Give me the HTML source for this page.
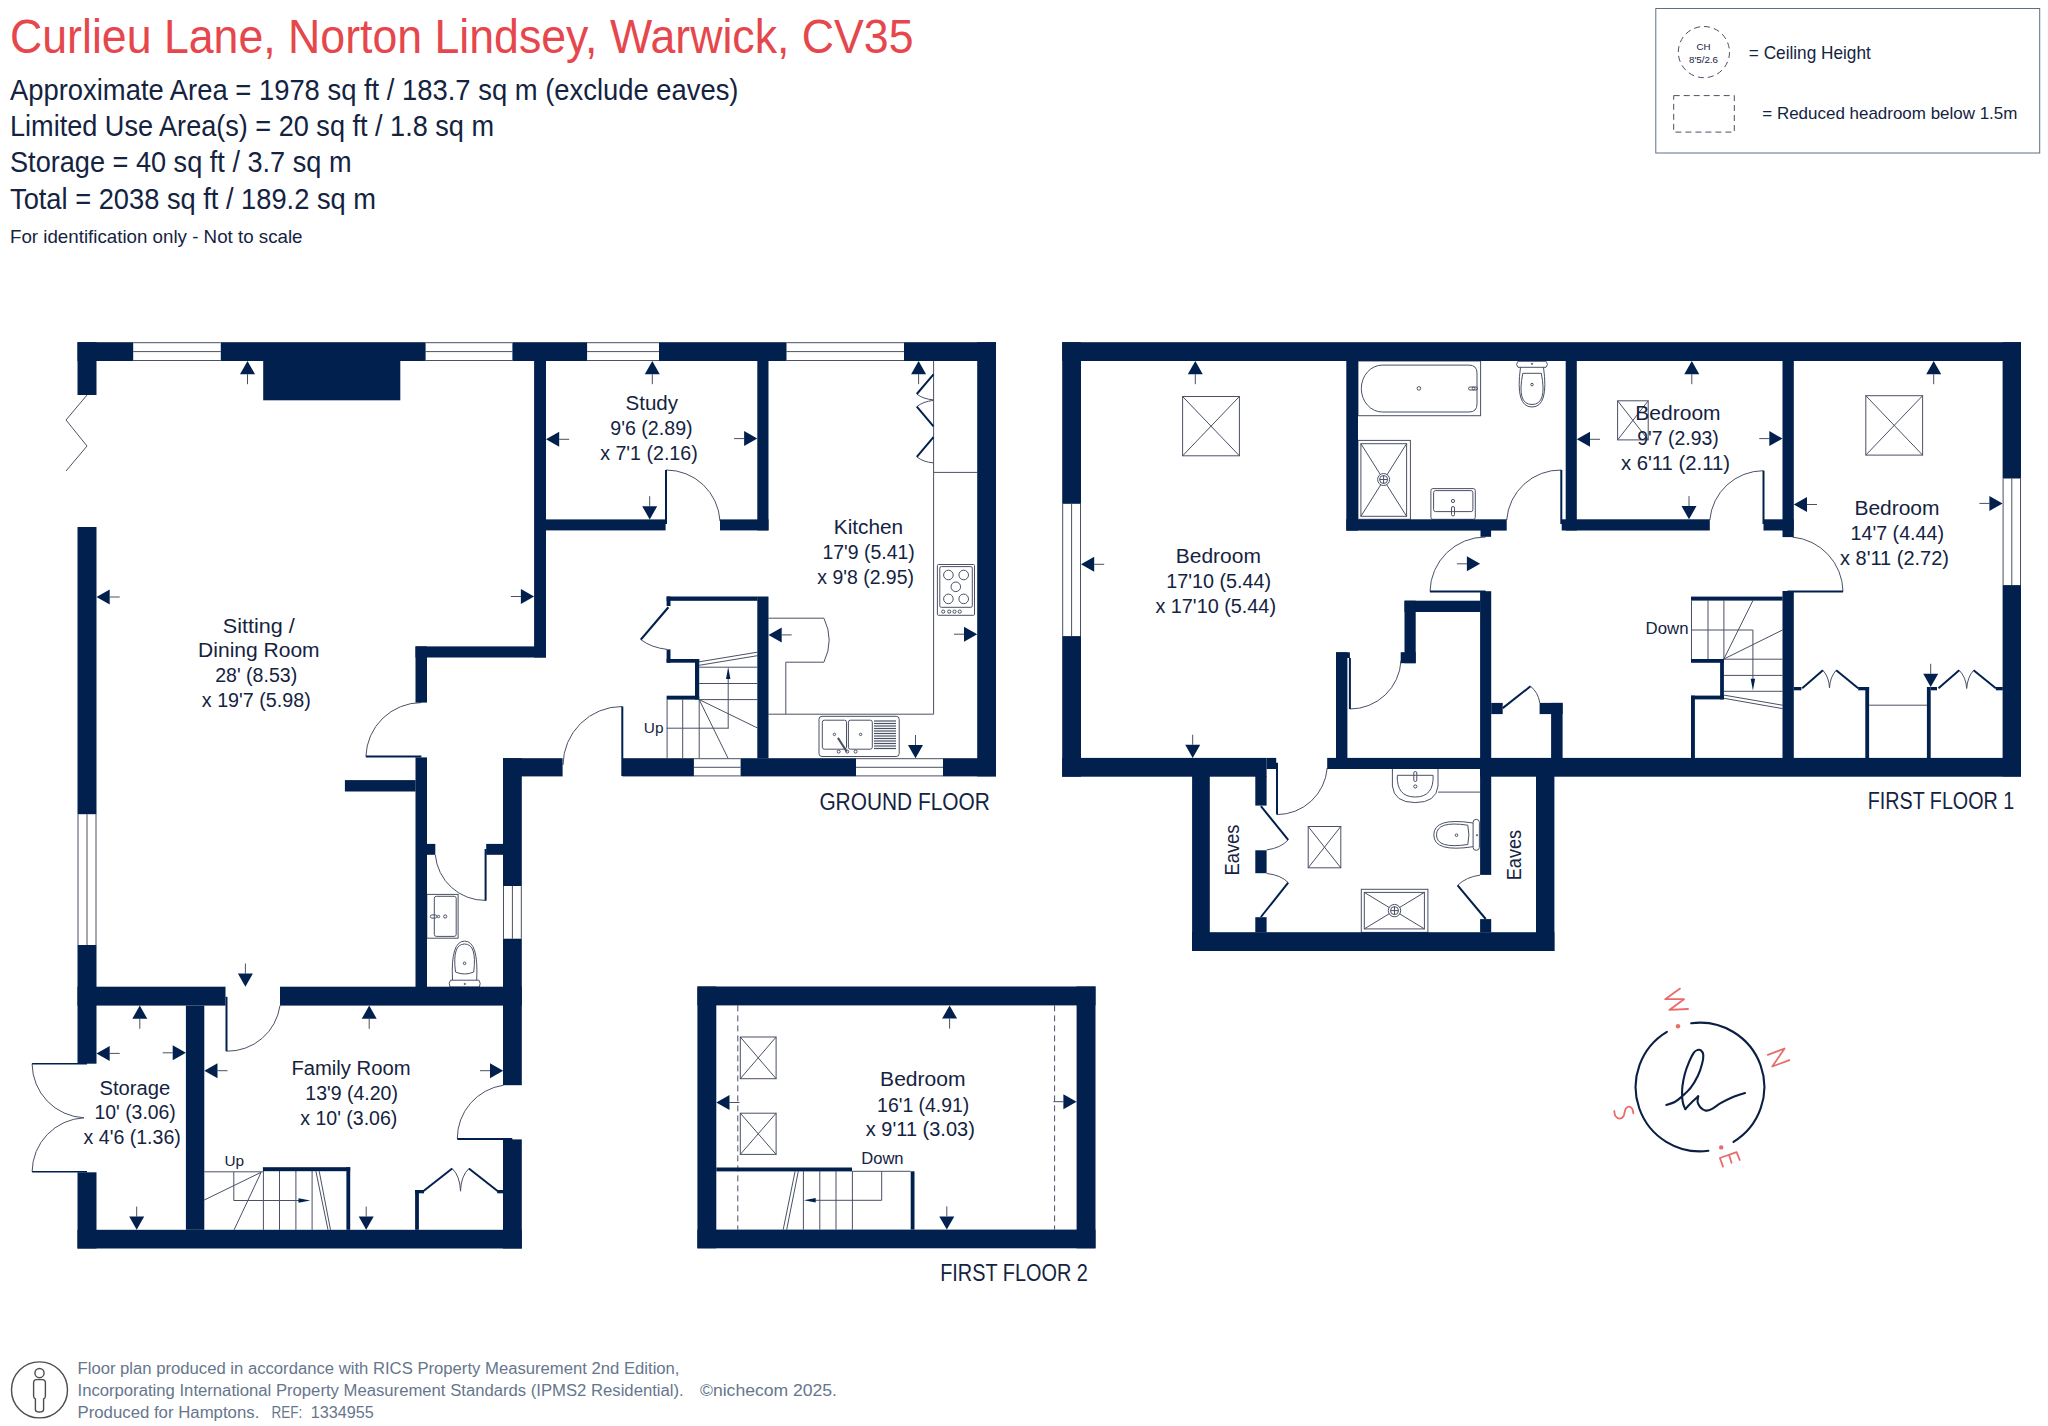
<!DOCTYPE html>
<html><head><meta charset="utf-8"><title>Floor plan</title>
<style>
html,body{margin:0;padding:0;background:#fff;}
body{width:2048px;height:1426px;overflow:hidden;font-family:"Liberation Sans",sans-serif;}
svg{display:block;}
</style></head><body>
<svg width="2048" height="1426" viewBox="0 0 2048 1426" font-family="'Liberation Sans', sans-serif">
<rect width="2048" height="1426" fill="#fff"/>
<g fill="none" stroke="#4a5165" stroke-width="1">
<line x1="133.2" y1="342.7" x2="220.8" y2="342.7"/>
<line x1="133.2" y1="351.6" x2="220.8" y2="351.6"/>
<line x1="133.2" y1="360.5" x2="220.8" y2="360.5"/>
<line x1="425.6" y1="342.7" x2="512.4" y2="342.7"/>
<line x1="425.6" y1="351.6" x2="512.4" y2="351.6"/>
<line x1="425.6" y1="360.5" x2="512.4" y2="360.5"/>
<line x1="587.1" y1="342.7" x2="659" y2="342.7"/>
<line x1="587.1" y1="351.6" x2="659" y2="351.6"/>
<line x1="587.1" y1="360.5" x2="659" y2="360.5"/>
<line x1="786.5" y1="342.7" x2="904" y2="342.7"/>
<line x1="786.5" y1="351.6" x2="904" y2="351.6"/>
<line x1="786.5" y1="360.5" x2="904" y2="360.5"/>
<line x1="693.9" y1="758.7" x2="740.6" y2="758.7"/>
<line x1="693.9" y1="767.3" x2="740.6" y2="767.3"/>
<line x1="693.9" y1="775.9" x2="740.6" y2="775.9"/>
<line x1="856" y1="758.7" x2="943" y2="758.7"/>
<line x1="856" y1="767.3" x2="943" y2="767.3"/>
<line x1="856" y1="775.9" x2="943" y2="775.9"/>
<line x1="78" y1="814.2" x2="78" y2="945"/>
<line x1="87" y1="814.2" x2="87" y2="945"/>
<line x1="96" y1="814.2" x2="96" y2="945"/>
<line x1="503.5" y1="886" x2="503.5" y2="938.7"/>
<line x1="512.4" y1="886" x2="512.4" y2="938.7"/>
<line x1="521.3" y1="886" x2="521.3" y2="938.7"/>
<line x1="1062.7" y1="503.8" x2="1062.7" y2="636.1"/>
<line x1="1071.6" y1="503.8" x2="1071.6" y2="636.1"/>
<line x1="1080.5" y1="503.8" x2="1080.5" y2="636.1"/>
<line x1="2003.1" y1="478.5" x2="2003.1" y2="585.1"/>
<line x1="2011.8" y1="478.5" x2="2011.8" y2="585.1"/>
<line x1="2020.5" y1="478.5" x2="2020.5" y2="585.1"/>
<path d="M87,395 L66,420 L87,446 L66,471"/>
<path d="M666,470 A54,54 0 0 1 720,521"/>
<path d="M365.9,756.6 A55.5,55.5 0 0 1 421.4,702.6"/>
<path d="M622.3,706.5 A59,59 0 0 0 563,765"/>
<path d="M435.3,854.8 A50,50 0 0 0 485.4,900.4"/>
<path d="M226.5,1051.2 A53,53 0 0 0 280,1005.6"/>
<path d="M457.3,1138.9 A54,54 0 0 1 503.5,1085.2"/>
<path d="M32.1,1063.7 A54.5,54.5 0 0 0 84,1117.8"/>
<path d="M32.1,1171.8 A54.5,54.5 0 0 1 84,1117.8"/>
<line x1="32.1" y1="1063.7" x2="87" y2="1063.7" stroke-width="1.6" stroke="#02204d"/>
<line x1="32.1" y1="1171.8" x2="87" y2="1171.8" stroke-width="1.6" stroke="#02204d"/>
<path d="M640.8,639.6 Q651,647.5 667,649.4"/>
<path d="M916.8,394 Q923,399 933.5,399.9"/>
<path d="M916.8,406.7 Q923,401.5 933.5,400.4"/>
<path d="M916.8,456.8 Q923,462 933.5,462.9"/>
<path d="M452.2,1168.5 Q460,1176 460.5,1191.2"/>
<path d="M468.9,1168.5 Q461,1176 460.5,1191.2"/>
<line x1="933.6" y1="361" x2="933.6" y2="714.2"/>
<line x1="933.6" y1="472.4" x2="977.2" y2="472.4"/>
<line x1="768.5" y1="714.2" x2="933.6" y2="714.2"/>
<path d="M768.5,618.2 L823.9,618.2 Q834.5,640 823.9,662.2 L785.8,662.2 L785.8,714.2"/>
<rect x="937.4" y="564.5" width="37.1" height="50.8" rx="1"/>
<rect x="939.8" y="566.6" width="32.5" height="40.7" rx="1.5"/>
<circle cx="948.4" cy="575" r="4.8"/>
<circle cx="963.7" cy="575" r="4.8"/>
<circle cx="955.8" cy="586.8" r="4.8"/>
<circle cx="948.4" cy="598.9" r="4.8"/>
<circle cx="963.7" cy="598.9" r="4.8"/>
<circle cx="943.2" cy="611.6" r="1.6"/>
<circle cx="949.2" cy="611.6" r="1.6"/>
<circle cx="954.5" cy="611.6" r="1.6"/>
<circle cx="959.7" cy="611.6" r="1.6"/>
<rect x="819" y="716.3" width="80.2" height="40.2" rx="3"/>
<rect x="822.3" y="720.2" width="24.2" height="29" rx="2"/>
<rect x="848.4" y="720.2" width="23.9" height="29" rx="2"/>
<line x1="874" y1="721" x2="896" y2="721" stroke-width="1.2"/>
<line x1="874" y1="723.5" x2="896" y2="723.5" stroke-width="1.2"/>
<line x1="874" y1="726" x2="896" y2="726" stroke-width="1.2"/>
<line x1="874" y1="728.5" x2="896" y2="728.5" stroke-width="1.2"/>
<line x1="874" y1="731" x2="896" y2="731" stroke-width="1.2"/>
<line x1="874" y1="733.5" x2="896" y2="733.5" stroke-width="1.2"/>
<line x1="874" y1="736" x2="896" y2="736" stroke-width="1.2"/>
<line x1="874" y1="738.5" x2="896" y2="738.5" stroke-width="1.2"/>
<line x1="874" y1="741" x2="896" y2="741" stroke-width="1.2"/>
<line x1="874" y1="743.5" x2="896" y2="743.5" stroke-width="1.2"/>
<line x1="874" y1="746" x2="896" y2="746" stroke-width="1.2"/>
<line x1="874" y1="748.5" x2="896" y2="748.5" stroke-width="1.2"/>
<circle cx="834.4" cy="734.4" r="1.2"/>
<circle cx="860.6" cy="734.4" r="1.2"/>
<line x1="837.9" y1="737.9" x2="846.8" y2="751.6" stroke-width="2"/>
<circle cx="838.7" cy="751.6" r="1.5"/>
<circle cx="847.3" cy="751.6" r="1.5"/>
<circle cx="855.6" cy="751.6" r="1.5"/>
<line x1="667.1" y1="699.6" x2="667.1" y2="758.2"/>
<line x1="682.7" y1="699.6" x2="682.7" y2="758.2"/>
<line x1="699.2" y1="699.6" x2="699.2" y2="758.2"/>
<line x1="666.6" y1="728.2" x2="728.7" y2="728.2"/>
<line x1="699.2" y1="667.2" x2="757.3" y2="667.2"/>
<line x1="699.2" y1="683.5" x2="757.3" y2="683.5"/>
<line x1="699.2" y1="699.6" x2="757.3" y2="699.6"/>
<line x1="699.2" y1="699.6" x2="757.3" y2="727.9"/>
<line x1="699.2" y1="699.6" x2="728" y2="758.2"/>
<line x1="699.2" y1="661.8" x2="757.3" y2="652.2"/>
<line x1="699.2" y1="665.3" x2="757.3" y2="655.7"/>
<line x1="728.2" y1="728.2" x2="728.2" y2="678"/>
<line x1="204.3" y1="1171.8" x2="262.9" y2="1171.8"/>
<line x1="263.4" y1="1171" x2="263.4" y2="1229.8"/>
<line x1="279.5" y1="1171" x2="279.5" y2="1229.8"/>
<line x1="295.9" y1="1171" x2="295.9" y2="1229.8"/>
<line x1="312.1" y1="1171" x2="312.1" y2="1229.8"/>
<line x1="315.9" y1="1171.2" x2="328" y2="1229.8"/>
<line x1="319.2" y1="1171.2" x2="330.5" y2="1229.8"/>
<line x1="261.1" y1="1172.3" x2="204.3" y2="1200"/>
<line x1="261.1" y1="1172.3" x2="234.1" y2="1229.8"/>
<path d="M233.8,1171.8 L233.8,1200.5 L300,1200.5"/>
<rect x="426.8" y="894.4" width="31.3" height="43.8"/>
<rect x="434.3" y="896.3" width="21.9" height="40.1" rx="2"/>
<circle cx="445.2" cy="916.5" r="1.6"/>
<rect x="430.3" y="914.9" width="6.5" height="3.2" rx="1.6"/>
<circle cx="438.5" cy="916.5" r="1.2"/>
<path d="M452.5,980.2 Q450.5,941.1 464.6,941.1 Q478.7,941.1 476.7,980.2"/>
<path d="M455.5,972 Q452,944 464.6,944 Q477.2,944 473.7,972 Q464.6,976 455.5,972 Z"/>
<path d="M450.5,980.2 L478.9,980.2 Q481.2,983 479.4,987 L450,987 Q448.2,983 450.5,980.2 Z"/>
<circle cx="464.6" cy="963.3" r="1.3"/>
<circle cx="464.8" cy="984" r="0.7"/>
<path d="M1430,591.4 A55.5,55.5 0 0 1 1485.6,537"/>
<path d="M1561.3,470 A54,54 0 0 0 1506.7,520"/>
<path d="M1763.5,470.7 A54,54 0 0 0 1709.8,520"/>
<path d="M1843,591.4 A55.5,55.5 0 0 0 1792.6,537.1"/>
<path d="M1349.9,709 A51,51 0 0 0 1401,660.6"/>
<path d="M1277,814.6 A50.5,50.5 0 0 0 1327.2,768"/>
<path d="M1530.5,686.3 Q1538,692 1539.8,702.9"/>
<path d="M1288.2,839.8 Q1281,848 1266.6,849.9"/>
<path d="M1266.6,873.5 Q1281,875 1288.2,882.6"/>
<path d="M1480.1,875.1 Q1466,877 1457.6,885.4"/>
<path d="M1822.9,670.3 Q1829,677 1829.5,688"/>
<path d="M1836.2,670.3 Q1830,677 1829.5,688"/>
<path d="M1959.2,670.3 Q1966,677 1966.7,688.5"/>
<path d="M1973.6,670.3 Q1967.5,677 1966.7,688.5"/>
<line x1="1869.1" y1="705.2" x2="1926.9" y2="705.2"/>
<rect x="1182.6" y="396.5" width="56.8" height="59.3"/>
<line x1="1182.6" y1="396.5" x2="1239.4" y2="455.8"/>
<line x1="1182.6" y1="455.8" x2="1239.4" y2="396.5"/>
<rect x="1617.6" y="400.8" width="30.6" height="39.1"/>
<line x1="1617.6" y1="400.8" x2="1648.2" y2="439.9"/>
<line x1="1617.6" y1="439.9" x2="1648.2" y2="400.8"/>
<rect x="1865.8" y="395.7" width="56.8" height="59.4"/>
<line x1="1865.8" y1="395.7" x2="1922.6" y2="455.1"/>
<line x1="1865.8" y1="455.1" x2="1922.6" y2="395.7"/>
<rect x="1308.2" y="826.5" width="32.6" height="41.3"/>
<line x1="1308.2" y1="826.5" x2="1340.8" y2="867.8"/>
<line x1="1308.2" y1="867.8" x2="1340.8" y2="826.5"/>
<rect x="740.3" y="1037" width="35.8" height="41.7"/>
<line x1="740.3" y1="1037" x2="776.1" y2="1078.7"/>
<line x1="740.3" y1="1078.7" x2="776.1" y2="1037"/>
<rect x="740.3" y="1113.2" width="35.8" height="41.2"/>
<line x1="740.3" y1="1113.2" x2="776.1" y2="1154.4"/>
<line x1="740.3" y1="1154.4" x2="776.1" y2="1113.2"/>
<rect x="1358" y="361" width="122.6" height="54.7"/>
<path d="M1382.3,365.1 L1469,365.1 Q1477,365.1 1477,373.1 L1477,404 Q1477,412 1469,412 L1382.3,412 A21,23.45 0 0 1 1382.3,365.1 Z"/>
<circle cx="1418.9" cy="388.4" r="1.8"/>
<rect x="1468.5" y="387" width="9" height="3" rx="1.5"/>
<circle cx="1473.6" cy="388.4" r="1.4"/>
<path d="M1518,361.3 L1546,361.3 Q1549,364.5 1546,367.3 L1518,367.3 Q1515,364.5 1518,361.3 Z"/>
<path d="M1520.5,367.3 Q1515,407 1532,407 Q1549,407 1543.5,367.3"/>
<path d="M1522.8,373.3 L1541.3,373.3 Q1547.5,404.5 1532,404.5 Q1516.5,404.5 1522.8,373.3 Z"/>
<circle cx="1532" cy="384.6" r="1.3"/>
<circle cx="1532" cy="363.8" r="0.7"/>
<rect x="1358" y="440.4" width="52.4" height="78.9"/>
<rect x="1360.9" y="443.7" width="45.7" height="72.6"/>
<line x1="1360.9" y1="443.7" x2="1406.6" y2="516.3"/>
<line x1="1406.6" y1="443.7" x2="1360.9" y2="516.3"/>
<circle cx="1383.6" cy="479.5" r="6" fill="#fff"/>
<circle cx="1383.6" cy="479.5" r="4"/>
<line x1="1379.6" y1="479.5" x2="1387.6" y2="479.5"/>
<line x1="1383.6" y1="475.5" x2="1383.6" y2="483.5"/>
<rect x="1430.9" y="488.6" width="44.4" height="30.7" rx="2"/>
<rect x="1433.6" y="490.6" width="39.3" height="21" rx="2"/>
<circle cx="1453" cy="501" r="1.6"/>
<rect x="1451.5" y="506.5" width="3" height="9.5" rx="1.5"/>
<path d="M1392.4,769 L1392.4,786 Q1394,802.6 1415.2,802.6 Q1436.4,802.6 1438,786 L1438,769"/>
<path d="M1397.3,775.3 L1433.1,775.3 Q1434,797 1415.2,797 Q1396.4,797 1397.3,775.3 Z"/>
<circle cx="1415.3" cy="786.5" r="1.6"/>
<rect x="1413.8" y="771.5" width="3" height="10" rx="1.5"/>
<line x1="1438" y1="792.1" x2="1480.1" y2="792.1"/>
<rect x="1473.1" y="819.4" width="6.3" height="30.9" rx="3"/>
<path d="M1473.1,823 Q1433.8,817 1433.8,834.9 Q1433.8,852.7 1473.1,846.7"/>
<path d="M1467.8,825.2 Q1436.5,820.5 1436.5,834.9 Q1436.5,849.2 1467.8,844.5 Q1470,834.9 1467.8,825.2 Z"/>
<circle cx="1456.5" cy="835.2" r="1.3"/>
<circle cx="1477" cy="835.2" r="0.7"/>
<rect x="1361.3" y="889.3" width="66.6" height="43.1"/>
<rect x="1364.3" y="892.4" width="60.1" height="36.5"/>
<line x1="1364.3" y1="892.4" x2="1424.4" y2="928.9"/>
<line x1="1424.4" y1="892.4" x2="1364.3" y2="928.9"/>
<circle cx="1394.5" cy="910.6" r="6.2" fill="#fff"/>
<circle cx="1394.5" cy="910.6" r="4"/>
<line x1="1390.5" y1="910.6" x2="1398.5" y2="910.6"/>
<line x1="1394.5" y1="906.6" x2="1394.5" y2="914.6"/>
<line x1="1691.5" y1="600.5" x2="1691.5" y2="659"/>
<line x1="1708" y1="600.5" x2="1708" y2="659"/>
<line x1="1723.9" y1="600.5" x2="1723.9" y2="659"/>
<line x1="1691.5" y1="630" x2="1752.9" y2="630"/>
<line x1="1723.9" y1="659" x2="1752.9" y2="600.6"/>
<line x1="1723.9" y1="659" x2="1782.5" y2="630"/>
<line x1="1723.9" y1="659.2" x2="1782.5" y2="659.2"/>
<line x1="1723.9" y1="675.4" x2="1782.5" y2="675.4"/>
<line x1="1723.9" y1="691.3" x2="1782.5" y2="691.3"/>
<line x1="1723.9" y1="695.1" x2="1782.5" y2="705.2"/>
<line x1="1723.9" y1="698.3" x2="1782.5" y2="708.6"/>
<line x1="1752.9" y1="630" x2="1752.9" y2="680"/>
<g stroke-dasharray="6,4">
<line x1="737.8" y1="1005.4" x2="737.8" y2="1229.6"/>
<line x1="1054.6" y1="1005.4" x2="1054.6" y2="1229.6"/>
</g>
<line x1="852" y1="1171.3" x2="910.7" y2="1171.3"/>
<line x1="803.4" y1="1171.3" x2="803.4" y2="1229.6"/>
<line x1="819.8" y1="1171.3" x2="819.8" y2="1229.6"/>
<line x1="836" y1="1171.3" x2="836" y2="1229.6"/>
<line x1="852.4" y1="1171.3" x2="852.4" y2="1229.6"/>
<line x1="795.1" y1="1171.3" x2="783.2" y2="1229.6"/>
<line x1="798.3" y1="1171.3" x2="786.7" y2="1229.6"/>
<path d="M881.7,1171.3 L881.7,1200.3 L814,1200.3"/>
<rect x="1655.8" y="8.5" width="383.9" height="144.5" stroke="#5f6e84"/>
<circle cx="1703.9" cy="52.1" r="25.6" stroke-dasharray="6,4"/>
<rect x="1673.7" y="95.6" width="60.6" height="36.5" stroke-dasharray="6,4"/>
</g>
<g fill="none" stroke="#02204d" stroke-width="2" stroke-linecap="butt">
<line x1="666" y1="470" x2="666" y2="524"/>
<line x1="365.9" y1="756.6" x2="421.4" y2="756.6"/>
<line x1="622.3" y1="706.5" x2="622.3" y2="776"/>
<line x1="485.6" y1="849" x2="485.6" y2="900.7"/>
<line x1="226.5" y1="996.8" x2="226.5" y2="1051.2"/>
<line x1="457.3" y1="1138.9" x2="512.3" y2="1138.9"/>
<line x1="668.4" y1="607.3" x2="640.8" y2="639.6" stroke-width="2.2"/>
<line x1="933.5" y1="374.3" x2="916.8" y2="394"/>
<line x1="916.8" y1="406.7" x2="933.5" y2="426.4"/>
<line x1="933.5" y1="437.2" x2="916.8" y2="456.8"/>
<line x1="423.2" y1="1191.2" x2="452.2" y2="1168.5"/>
<line x1="468.9" y1="1168.5" x2="497.9" y2="1191.2"/>
<line x1="1430" y1="591.4" x2="1485.6" y2="591.4"/>
<line x1="1561.3" y1="470" x2="1561.3" y2="524"/>
<line x1="1763.5" y1="470.7" x2="1763.5" y2="524"/>
<line x1="1787.5" y1="591.4" x2="1843" y2="591.4"/>
<line x1="1349.9" y1="658" x2="1349.9" y2="709"/>
<line x1="1277" y1="762.8" x2="1277" y2="814.6"/>
<line x1="1502.7" y1="708.1" x2="1530.5" y2="686.3"/>
<line x1="1260.9" y1="806.1" x2="1288.2" y2="839.8"/>
<line x1="1288.2" y1="882.6" x2="1260.9" y2="917"/>
<line x1="1457.6" y1="885.4" x2="1485.7" y2="919"/>
<line x1="1802.2" y1="688.3" x2="1822.9" y2="670.3"/>
<line x1="1836.2" y1="670.3" x2="1858.2" y2="688.3"/>
<line x1="1938.5" y1="688.3" x2="1959.2" y2="670.3"/>
<line x1="1973.6" y1="670.3" x2="1995.8" y2="688.3"/>
</g>
<g fill="#02204d">
<rect x="77.5" y="342.2" width="55.7" height="18.8"/>
<rect x="220.8" y="342.2" width="204.8" height="18.8"/>
<rect x="512.4" y="342.2" width="74.7" height="18.8"/>
<rect x="659" y="342.2" width="127.5" height="18.8"/>
<rect x="904" y="342.2" width="92" height="18.8"/>
<rect x="263.2" y="360" width="137.1" height="40.3"/>
<rect x="77.5" y="342.2" width="19" height="52.8"/>
<rect x="77.5" y="527" width="19" height="287.2"/>
<rect x="77.5" y="945" width="19" height="118.7"/>
<rect x="77.5" y="1172.3" width="19" height="76.2"/>
<rect x="977.2" y="342.2" width="18.8" height="434.2"/>
<rect x="622.4" y="758.2" width="71.5" height="18.2"/>
<rect x="740.6" y="758.2" width="115.4" height="18.2"/>
<rect x="943" y="758.2" width="53" height="18.2"/>
<rect x="503" y="758.2" width="59.6" height="18.2"/>
<rect x="503" y="758.2" width="18.8" height="127.8"/>
<rect x="503" y="938.7" width="18.8" height="146.5"/>
<rect x="503" y="1139.4" width="18.8" height="109.1"/>
<rect x="77.5" y="986.7" width="148" height="18.9"/>
<rect x="280" y="986.7" width="241.8" height="18.9"/>
<rect x="77.5" y="1229.8" width="444.3" height="18.7"/>
<rect x="185.9" y="1005.6" width="18.4" height="224.2"/>
<rect x="534.1" y="360" width="11.9" height="297.5"/>
<rect x="415.5" y="646.4" width="130.5" height="11.1"/>
<rect x="415.5" y="646.4" width="11.5" height="56.2"/>
<rect x="415.5" y="757.4" width="11.5" height="229.6"/>
<rect x="344.9" y="780.1" width="70.7" height="11.4"/>
<rect x="426.8" y="843.9" width="8.5" height="10.9"/>
<rect x="486.2" y="843.9" width="17" height="10.9"/>
<rect x="546" y="519.4" width="119.6" height="11"/>
<rect x="720" y="519.4" width="48.5" height="11"/>
<rect x="757.3" y="360" width="11.2" height="170.4"/>
<rect x="757.3" y="596.5" width="11.2" height="161.9"/>
<rect x="666.6" y="596.5" width="90.9" height="4.3"/>
<rect x="666.6" y="596.5" width="3.9" height="9.5"/>
<rect x="666.6" y="649.4" width="3.9" height="13.3"/>
<rect x="666.6" y="659" width="32.6" height="3.7"/>
<rect x="695" y="659" width="4.2" height="40.6"/>
<rect x="666.6" y="695.7" width="32.6" height="3.9"/>
<rect x="262.9" y="1167.2" width="87.3" height="4"/>
<rect x="346.4" y="1167.2" width="3.8" height="62.6"/>
<rect x="415.1" y="1190" width="8.9" height="3.3"/>
<rect x="415.1" y="1190" width="3.8" height="39.8"/>
<rect x="497.2" y="1190" width="6.3" height="3.3"/>
<rect x="1062.2" y="342.2" width="958.8" height="18.8"/>
<rect x="1062.2" y="342.2" width="18.8" height="161.6"/>
<rect x="1062.2" y="636.1" width="18.8" height="140.6"/>
<rect x="2002.6" y="342.2" width="18.4" height="136.3"/>
<rect x="2002.6" y="585.1" width="18.4" height="191.4"/>
<rect x="1062.2" y="757.9" width="204.4" height="18.8"/>
<rect x="1266.6" y="757.9" width="9.6" height="11.1"/>
<rect x="1327.2" y="757.9" width="152.9" height="11.1"/>
<rect x="1480.1" y="757.9" width="540.9" height="18.8"/>
<rect x="1192.1" y="776" width="17.7" height="175"/>
<rect x="1192.1" y="932.2" width="362.3" height="18.8"/>
<rect x="1536" y="776" width="18.4" height="175"/>
<rect x="1255.3" y="776" width="11.3" height="29.6"/>
<rect x="1255.3" y="850.3" width="11.3" height="22.9"/>
<rect x="1255.3" y="917.2" width="11.3" height="15.2"/>
<rect x="1480.1" y="591.2" width="11.1" height="283.7"/>
<rect x="1480.1" y="919.1" width="11.1" height="13.3"/>
<rect x="1346.3" y="360" width="11.7" height="170.6"/>
<rect x="1346.3" y="519.3" width="160.4" height="11.3"/>
<rect x="1480.5" y="530" width="10.6" height="6.8"/>
<rect x="1565.7" y="360" width="11.1" height="170.5"/>
<rect x="1561.7" y="519.3" width="148.1" height="11.2"/>
<rect x="1763.5" y="519.3" width="30.3" height="11.2"/>
<rect x="1782.5" y="360" width="11.3" height="177.1"/>
<rect x="1782.5" y="591" width="11.3" height="167.5"/>
<rect x="1404.5" y="600.7" width="76" height="11.3"/>
<rect x="1404.5" y="600.7" width="11.2" height="62.5"/>
<rect x="1400.7" y="652.2" width="15" height="11"/>
<rect x="1336" y="652.3" width="11.4" height="106.2"/>
<rect x="1336" y="652.3" width="13.9" height="5.7"/>
<rect x="1491.2" y="702.9" width="11.5" height="11.2"/>
<rect x="1539.6" y="702.9" width="23" height="11.2"/>
<rect x="1551.1" y="702.9" width="11.5" height="55.6"/>
<rect x="1691" y="596.6" width="91.6" height="4"/>
<rect x="1691" y="659" width="32.9" height="3.8"/>
<rect x="1720.1" y="659" width="3.8" height="40.4"/>
<rect x="1691" y="695.6" width="32.9" height="3.8"/>
<rect x="1691" y="695.6" width="3.9" height="62.9"/>
<rect x="1793.8" y="687" width="7.6" height="3.3"/>
<rect x="1858.2" y="687" width="10.9" height="3.3"/>
<rect x="1865.3" y="687" width="3.8" height="71.5"/>
<rect x="1926.9" y="687" width="3.8" height="71.5"/>
<rect x="1930.7" y="687" width="6.3" height="3.3"/>
<rect x="1995.8" y="687" width="7" height="3.3"/>
<rect x="697.4" y="986.5" width="398.1" height="18.9"/>
<rect x="697.4" y="1229.6" width="398.1" height="18.7"/>
<rect x="697.4" y="986.5" width="18.9" height="261.8"/>
<rect x="1076.6" y="986.5" width="18.9" height="261.8"/>
<rect x="716.3" y="1167.5" width="135.7" height="3.9"/>
<rect x="910.7" y="1171.3" width="3.8" height="58.3"/>
</g>
<g fill="none" stroke="#4a5165" stroke-width="1">
<line x1="247.5" y1="374.2" x2="247.5" y2="384.2"/>
<line x1="109.7" y1="597" x2="119.7" y2="597"/>
<line x1="520.9" y1="596.5" x2="510.9" y2="596.5"/>
<line x1="245.4" y1="973.5" x2="245.4" y2="963.5"/>
<line x1="652.3" y1="374.2" x2="652.3" y2="384.2"/>
<line x1="559.2" y1="439.3" x2="569.2" y2="439.3"/>
<line x1="744.1" y1="438.6" x2="734.1" y2="438.6"/>
<line x1="649.7" y1="506.2" x2="649.7" y2="496.2"/>
<line x1="918.6" y1="374.2" x2="918.6" y2="384.2"/>
<line x1="781.7" y1="634.9" x2="791.7" y2="634.9"/>
<line x1="964" y1="634.2" x2="954" y2="634.2"/>
<line x1="915.5" y1="745" x2="915.5" y2="735"/>
<line x1="139.8" y1="1018.8" x2="139.8" y2="1028.8"/>
<line x1="109.7" y1="1053.4" x2="119.7" y2="1053.4"/>
<line x1="172.7" y1="1052.8" x2="162.7" y2="1052.8"/>
<line x1="136.7" y1="1216.6" x2="136.7" y2="1206.6"/>
<line x1="369.2" y1="1018.8" x2="369.2" y2="1028.8"/>
<line x1="217.5" y1="1070.7" x2="227.5" y2="1070.7"/>
<line x1="490" y1="1070.7" x2="480" y2="1070.7"/>
<line x1="366.2" y1="1216.6" x2="366.2" y2="1206.6"/>
<line x1="949.6" y1="1018.6" x2="949.6" y2="1028.6"/>
<line x1="729.5" y1="1102.5" x2="739.5" y2="1102.5"/>
<line x1="1063.4" y1="1101.7" x2="1053.4" y2="1101.7"/>
<line x1="946.8" y1="1216.4" x2="946.8" y2="1206.4"/>
<line x1="1195.3" y1="374.2" x2="1195.3" y2="384.2"/>
<line x1="1094.2" y1="564.3" x2="1104.2" y2="564.3"/>
<line x1="1192.7" y1="744.7" x2="1192.7" y2="734.7"/>
<line x1="1466.9" y1="563.8" x2="1456.9" y2="563.8"/>
<line x1="1691.8" y1="374.2" x2="1691.8" y2="384.2"/>
<line x1="1590" y1="439.3" x2="1600" y2="439.3"/>
<line x1="1769.3" y1="438.6" x2="1759.3" y2="438.6"/>
<line x1="1689" y1="506.1" x2="1689" y2="496.1"/>
<line x1="1933.7" y1="374.2" x2="1933.7" y2="384.2"/>
<line x1="1807" y1="504.5" x2="1817" y2="504.5"/>
<line x1="1989.4" y1="503.4" x2="1979.4" y2="503.4"/>
<line x1="1930.7" y1="673.8" x2="1930.7" y2="663.8"/>
</g>
<g fill="#02204d">
<polygon points="247.5,361 240,374.2 255,374.2"/>
<polygon points="96.5,597 109.7,589.5 109.7,604.5"/>
<polygon points="534.1,596.5 520.9,589 520.9,604"/>
<polygon points="245.4,986.7 237.9,973.5 252.9,973.5"/>
<polygon points="652.3,361 644.8,374.2 659.8,374.2"/>
<polygon points="546,439.3 559.2,431.8 559.2,446.8"/>
<polygon points="757.3,438.6 744.1,431.1 744.1,446.1"/>
<polygon points="649.7,519.4 642.2,506.2 657.2,506.2"/>
<polygon points="918.6,361 911.1,374.2 926.1,374.2"/>
<polygon points="768.5,634.9 781.7,627.4 781.7,642.4"/>
<polygon points="977.2,634.2 964,626.7 964,641.7"/>
<polygon points="915.5,758.2 908,745 923,745"/>
<polygon points="139.8,1005.6 132.3,1018.8 147.3,1018.8"/>
<polygon points="96.5,1053.4 109.7,1045.9 109.7,1060.9"/>
<polygon points="185.9,1052.8 172.7,1045.3 172.7,1060.3"/>
<polygon points="136.7,1229.8 129.2,1216.6 144.2,1216.6"/>
<polygon points="369.2,1005.6 361.7,1018.8 376.7,1018.8"/>
<polygon points="204.3,1070.7 217.5,1063.2 217.5,1078.2"/>
<polygon points="503.2,1070.7 490,1063.2 490,1078.2"/>
<polygon points="366.2,1229.8 358.7,1216.6 373.7,1216.6"/>
<polygon points="949.6,1005.4 942.1,1018.6 957.1,1018.6"/>
<polygon points="716.3,1102.5 729.5,1095 729.5,1110"/>
<polygon points="1076.6,1101.7 1063.4,1094.2 1063.4,1109.2"/>
<polygon points="946.8,1229.6 939.3,1216.4 954.3,1216.4"/>
<polygon points="1195.3,361 1187.8,374.2 1202.8,374.2"/>
<polygon points="1081,564.3 1094.2,556.8 1094.2,571.8"/>
<polygon points="1192.7,757.9 1185.2,744.7 1200.2,744.7"/>
<polygon points="1480.1,563.8 1466.9,556.3 1466.9,571.3"/>
<polygon points="1691.8,361 1684.3,374.2 1699.3,374.2"/>
<polygon points="1576.8,439.3 1590,431.8 1590,446.8"/>
<polygon points="1782.5,438.6 1769.3,431.1 1769.3,446.1"/>
<polygon points="1689,519.3 1681.5,506.1 1696.5,506.1"/>
<polygon points="1933.7,361 1926.2,374.2 1941.2,374.2"/>
<polygon points="1793.8,504.5 1807,497 1807,512"/>
<polygon points="2002.6,503.4 1989.4,495.9 1989.4,510.9"/>
<polygon points="1930.7,687 1923.2,673.8 1938.2,673.8"/>
<polygon points="728.2,667 726,679 730.4,679"/>
<polygon points="310.3,1200.5 298.5,1198.3 298.5,1202.7"/>
<polygon points="803.9,1200.3 815.7,1198.1 815.7,1202.5"/>
<polygon points="1752.9,690.5 1750.7,678.7 1755.1,678.7"/>
</g>
<g fill="#14233f">
<text x="10" y="53.2" font-size="47.5" textLength="903.5" lengthAdjust="spacingAndGlyphs" fill="#e5474c">Curlieu Lane, Norton Lindsey, Warwick, CV35</text>
<text x="10" y="100" font-size="30" textLength="728.5" lengthAdjust="spacingAndGlyphs">Approximate Area = 1978 sq ft / 183.7 sq m (exclude eaves)</text>
<text x="10" y="136" font-size="30" textLength="484" lengthAdjust="spacingAndGlyphs">Limited Use Area(s) = 20 sq ft / 1.8 sq m</text>
<text x="10" y="172.4" font-size="30" textLength="341.5" lengthAdjust="spacingAndGlyphs">Storage = 40 sq ft / 3.7 sq m</text>
<text x="10" y="208.5" font-size="30" textLength="366" lengthAdjust="spacingAndGlyphs">Total = 2038 sq ft / 189.2 sq m</text>
<text x="10" y="242.5" font-size="18.5" textLength="292.5" lengthAdjust="spacingAndGlyphs">For identification only - Not to scale</text>
<text x="1748.8" y="58.6" font-size="18.5" textLength="122" lengthAdjust="spacingAndGlyphs">= Ceiling Height</text>
<text x="1762.3" y="119.2" font-size="17" textLength="255.1" lengthAdjust="spacingAndGlyphs">= Reduced headroom below 1.5m</text>
<text x="1696.5" y="50.3" font-size="9.5" textLength="14" lengthAdjust="spacingAndGlyphs">CH</text>
<text x="1689" y="62.6" font-size="9.5" textLength="29" lengthAdjust="spacingAndGlyphs">8'5/2.6</text>
<text x="222.8" y="632.5" font-size="20" textLength="72" lengthAdjust="spacingAndGlyphs">Sitting /</text>
<text x="198.1" y="657.2" font-size="20" textLength="121.5" lengthAdjust="spacingAndGlyphs">Dining Room</text>
<text x="215.2" y="681.9" font-size="20" textLength="82" lengthAdjust="spacingAndGlyphs">28' (8.53)</text>
<text x="201.8" y="706.7" font-size="20" textLength="109" lengthAdjust="spacingAndGlyphs">x 19'7 (5.98)</text>
<text x="625.5" y="409.6" font-size="20" textLength="52.5" lengthAdjust="spacingAndGlyphs">Study</text>
<text x="610.3" y="434.9" font-size="20" textLength="82.3" lengthAdjust="spacingAndGlyphs">9'6 (2.89)</text>
<text x="600.2" y="459.6" font-size="20" textLength="97.5" lengthAdjust="spacingAndGlyphs">x 7'1 (2.16)</text>
<text x="833.8" y="534.1" font-size="20" textLength="69.4" lengthAdjust="spacingAndGlyphs">Kitchen</text>
<text x="822.4" y="558.7" font-size="20" textLength="92.4" lengthAdjust="spacingAndGlyphs">17'9 (5.41)</text>
<text x="817.3" y="583.8" font-size="20" textLength="96.7" lengthAdjust="spacingAndGlyphs">x 9'8 (2.95)</text>
<text x="99.5" y="1094.5" font-size="20" textLength="70.7" lengthAdjust="spacingAndGlyphs">Storage</text>
<text x="94.5" y="1119.2" font-size="20" textLength="81.3" lengthAdjust="spacingAndGlyphs">10' (3.06)</text>
<text x="83.6" y="1144" font-size="20" textLength="97.2" lengthAdjust="spacingAndGlyphs">x 4'6 (1.36)</text>
<text x="291.4" y="1075.1" font-size="20" textLength="119.2" lengthAdjust="spacingAndGlyphs">Family Room</text>
<text x="305.3" y="1100.3" font-size="20" textLength="92.6" lengthAdjust="spacingAndGlyphs">13'9 (4.20)</text>
<text x="300.2" y="1125" font-size="20" textLength="97.2" lengthAdjust="spacingAndGlyphs">x 10' (3.06)</text>
<text x="880.1" y="1086.2" font-size="20" textLength="85.4" lengthAdjust="spacingAndGlyphs">Bedroom</text>
<text x="877.1" y="1111.5" font-size="20" textLength="92.2" lengthAdjust="spacingAndGlyphs">16'1 (4.91)</text>
<text x="865.8" y="1136" font-size="20" textLength="109" lengthAdjust="spacingAndGlyphs">x 9'11 (3.03)</text>
<text x="1175.8" y="562.9" font-size="20" textLength="85.1" lengthAdjust="spacingAndGlyphs">Bedroom</text>
<text x="1166.2" y="587.6" font-size="20" textLength="104.8" lengthAdjust="spacingAndGlyphs">17'10 (5.44)</text>
<text x="1155.4" y="612.9" font-size="20" textLength="120.6" lengthAdjust="spacingAndGlyphs">x 17'10 (5.44)</text>
<text x="1635.3" y="420.2" font-size="20" textLength="85.3" lengthAdjust="spacingAndGlyphs">Bedroom</text>
<text x="1637.3" y="445" font-size="20" textLength="81.5" lengthAdjust="spacingAndGlyphs">9'7 (2.93)</text>
<text x="1620.9" y="470.2" font-size="20" textLength="109.1" lengthAdjust="spacingAndGlyphs">x 6'11 (2.11)</text>
<text x="1854.4" y="514.9" font-size="20" textLength="85.1" lengthAdjust="spacingAndGlyphs">Bedroom</text>
<text x="1850.6" y="539.6" font-size="20" textLength="93.4" lengthAdjust="spacingAndGlyphs">14'7 (4.44)</text>
<text x="1840" y="564.9" font-size="20" textLength="109" lengthAdjust="spacingAndGlyphs">x 8'11 (2.72)</text>
<text x="643.8" y="732.6" font-size="15" textLength="19.7" lengthAdjust="spacingAndGlyphs">Up</text>
<text x="224.5" y="1165.8" font-size="15" textLength="19.7" lengthAdjust="spacingAndGlyphs">Up</text>
<text x="861.2" y="1164" font-size="16.5" textLength="42.4" lengthAdjust="spacingAndGlyphs">Down</text>
<text x="1645.6" y="633.8" font-size="16.5" textLength="42.9" lengthAdjust="spacingAndGlyphs">Down</text>
<text x="819.4" y="810" font-size="23" textLength="170.4" lengthAdjust="spacingAndGlyphs">GROUND FLOOR</text>
<text x="1867.8" y="808.8" font-size="23" textLength="146.4" lengthAdjust="spacingAndGlyphs">FIRST FLOOR 1</text>
<text x="940.2" y="1280.6" font-size="23" textLength="147.7" lengthAdjust="spacingAndGlyphs">FIRST FLOOR 2</text>
<text transform="translate(1238.5,875.5) rotate(-90)" font-size="20" textLength="51" lengthAdjust="spacingAndGlyphs">Eaves</text>
<text transform="translate(1520.8,880.3) rotate(-90)" font-size="20" textLength="50.5" lengthAdjust="spacingAndGlyphs">Eaves</text>
<text x="77.5" y="1374.2" font-size="16" textLength="602" lengthAdjust="spacingAndGlyphs" fill="#66768c">Floor plan produced in accordance with RICS Property Measurement 2nd Edition,</text>
<text x="77.5" y="1395.9" font-size="16" textLength="606.2" lengthAdjust="spacingAndGlyphs" fill="#66768c">Incorporating International Property Measurement Standards (IPMS2 Residential).</text>
<text x="700" y="1395.9" font-size="16" textLength="137" lengthAdjust="spacingAndGlyphs" fill="#66768c">©nichecom 2025.</text>
<text x="77.5" y="1417.6" font-size="16" textLength="181.8" lengthAdjust="spacingAndGlyphs" fill="#66768c">Produced for Hamptons.</text>
<text x="271.5" y="1417.6" font-size="16" textLength="30.8" lengthAdjust="spacingAndGlyphs" fill="#66768c">REF:</text>
<text x="310.7" y="1417.6" font-size="16" textLength="63" lengthAdjust="spacingAndGlyphs" fill="#66768c">1334955</text>
</g>
<g fill="none" stroke="#4d4d4d" stroke-width="1.4">
<circle cx="39.5" cy="1389.9" r="28"/>
<circle cx="39.5" cy="1373.1" r="4.6"/>
<path d="M36.6,1379.6 L42.4,1379.6 Q45.4,1379.6 45.4,1383 L45.4,1396 Q45.4,1398.5 43.6,1399 L43.6,1409.5 Q43.6,1412 39.5,1412 Q35.4,1412 35.4,1409.5 L35.4,1399 Q33.6,1398.5 33.6,1396 L33.6,1383 Q33.6,1379.6 36.6,1379.6 Z"/>
</g>
<g fill="none" stroke-linecap="round" stroke-linejoin="round">
<path d="M1691.2,1023.3 A64.3,64.3 0 0 1 1733.5,1141.9" stroke="#0b1f44" stroke-width="2.1"/>
<path d="M1708.4,1150.8 A64.3,64.3 0 0 1 1666.9,1031.9" stroke="#0b1f44" stroke-width="2.1"/>
<g stroke="#ea6b6b" stroke-width="1.8">
<path d="M1680,988.6 L1665.2,999.2 L1684,999.2 L1669.3,1009.9 L1688,1009"/>
<path d="M1767.9,1054.9 L1784.6,1048.5 L1772.3,1066.5 L1789.4,1060.1"/>
<path d="M1614.3,1111 C1614.5,1111.8 1614.5,1114.8 1615.4,1116.1 C1616.3,1117.4 1618.3,1118.7 1619.6,1118.7 C1620.9,1118.8 1622.6,1117.5 1623.4,1116.4 C1624.2,1115.4 1624.2,1113.7 1624.6,1112.4 C1625,1111.1 1625.2,1109.4 1626,1108.4 C1626.8,1107.5 1628.1,1106.6 1629.1,1106.7 C1630.1,1106.8 1631.5,1107.7 1632.2,1108.8 C1632.9,1109.9 1633.2,1112.6 1633.4,1113.4"/>
<path d="M1723,1166.6 L1719.9,1158 L1736.6,1152.1 L1739.7,1160 M1729.1,1155.1 L1731.5,1162.8"/>
</g>
<circle cx="1678" cy="1026.3" r="2.2" fill="#ea6b6b" stroke="none"/>
<circle cx="1721.2" cy="1147.4" r="2.2" fill="#ea6b6b" stroke="none"/>
<path d="M1666.3,1105 C1667.7,1104.5 1672.1,1103.4 1674.7,1102 C1677.2,1100.6 1679.1,1099 1681.8,1096.6 C1684.5,1094.2 1688.1,1091.2 1690.8,1087.7 C1693.4,1084.2 1696,1079.7 1697.9,1075.8 C1699.8,1071.8 1701.2,1067.3 1702.1,1063.8 C1703,1060.4 1703.5,1057.1 1703.3,1054.9 C1703.1,1052.7 1701.9,1051.2 1700.9,1050.4 C1699.9,1049.6 1698.5,1049.7 1697.3,1050.1 C1696.1,1050.5 1695.1,1050.8 1693.7,1052.8 C1692.3,1054.8 1690.5,1058.5 1689,1062.1 C1687.5,1065.6 1685.9,1069.9 1684.8,1074 C1683.7,1078 1682.9,1082.7 1682.4,1086.5 C1682,1090.3 1682,1093.6 1682.1,1096.6 C1682.3,1099.6 1682.8,1102.3 1683.3,1104.4 C1683.9,1106.4 1685,1108.3 1685.4,1109.1" stroke="#0b1f44" stroke-width="2.1"/>
<path d="M1685.4,1109.1 C1686.3,1108.1 1688.6,1105.3 1690.8,1103.2 C1692.9,1101 1697,1097.5 1698.2,1096.3" stroke="#0b1f44" stroke-width="2.1"/>
<path d="M1698.2,1096.3 C1698.1,1097.3 1697.3,1100.1 1697.6,1102 C1698,1103.8 1699,1105.9 1700.3,1107.3 C1701.6,1108.8 1703.8,1110.3 1705.7,1110.6 C1707.5,1110.9 1709.1,1110.4 1711.6,1109.1 C1714.1,1107.9 1717.1,1105.2 1720.6,1103.2 C1724,1101.2 1728.4,1098.9 1732.5,1097.2 C1736.5,1095.5 1742.9,1093.7 1745,1093" stroke="#0b1f44" stroke-width="2.1"/>
</g>
</svg>
</body></html>
